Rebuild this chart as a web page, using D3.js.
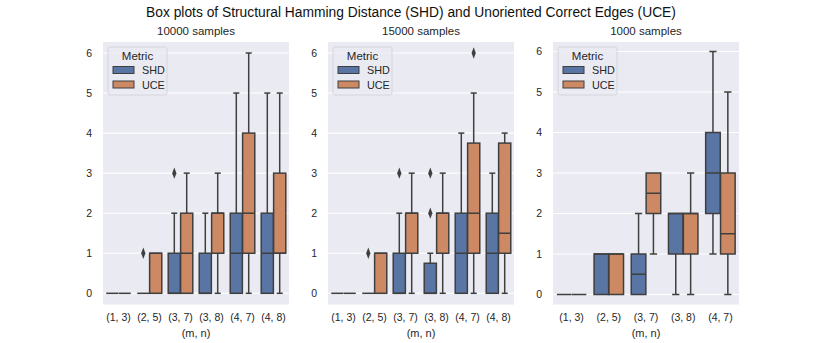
<!DOCTYPE html>
<html lang="en">
<head>
<meta charset="UTF-8" />
<title>SHD / UCE box plots</title>
<style>
  body { margin: 0; background: #fff; }
  svg { font-family: "Liberation Sans", Arial, sans-serif; }
</style>
</head>
<body>
<script src="https://d3js.org/d3.v7.min.js"></script>
<script>

// categories per panel
var cats10000 = ["(1, 3)", "(2, 5)", "(3, 7)", "(3, 8)", "(4, 7)", "(4, 8)"];
var cats15000 = ["(1, 3)", "(2, 5)", "(3, 7)", "(3, 8)", "(4, 7)", "(4, 8)"];
var cats1000 = ["(1, 3)", "(2, 5)", "(3, 7)", "(3, 8)", "(4, 7)"];
var metrics = ["SHD", "UCE"];
var yTicks = [0, 1, 2, 3, 4, 5, 6];

// box stats: [lowWhisker, q1, median, q3, highWhisker]
var shd10000 = [[0,0,0,0,0],[0,0,0,0,0],[0,0,0,1,2],[0,0,0,1,2],[0,0,1,2,5],[0,0,1,2,5]];
var uce10000 = [[0,0,0,0,0],[0,0,1,1,1],[0,0,1,2,3],[0,1,2,2,3],[0,1,2,4,6],[0,1,1,3,5]];
var shdOut10000 = [[],[1],[3],[],[],[]];
var uceOut10000 = [[],[],[],[],[],[]];

var shd15000 = [[0,0,0,0,0],[0,0,0,0,0],[0,0,0,1,2],[0,0,0,0.75,1],[0,0,1,2,4],[0,0,1,2,3]];
var uce15000 = [[0,0,0,0,0],[0,0,1,1,1],[0,1,2,2,3],[0,1,2,2,3],[0,1,2,3.75,5],[0,1,1.5,3.75,4]];
var shdOut15000 = [[],[1],[3],[2,3],[],[]];
var uceOut15000 = [[],[],[],[],[6],[]];

var shd1000 = [[0,0,0,0,0],[0,0,1,1,1],[0,0,0.5,1,2],[0,1,2,2,2],[1,2,3,4,6]];
var uce1000 = [[0,0,0,0,0],[0,0,1,1,1],[1,2,2.5,3,3],[0,1,2,2,3],[0,1,1.5,3,5]];
var shdOut1000 = [[],[],[],[],[]];
var uceOut1000 = [[],[],[],[],[]];

var colors = {SHD: "#5975a4", UCE: "#cc8963"};
var lineColor = "#3f3f3f";

var W = 822, H = 343;
var svg = d3.select("body").append("svg").attr("width", W).attr("height", H);

svg.append("text").attr("x", 411).attr("y", 17).attr("text-anchor", "middle")
  .attr("font-size", 13.8).attr("fill", "#111")
  .text("Box plots of Structural Hamming Distance (SHD) and Unoriented Correct Edges (UCE)");

var panels = [
  {title: "10000 samples", x0: 103, cats: cats10000, shd: shd10000, uce: uce10000, so: shdOut10000, uo: uceOut10000, y0: 293.3, y6: 53},
  {title: "15000 samples", x0: 328, cats: cats15000, shd: shd15000, uce: uce15000, so: shdOut15000, uo: uceOut15000, y0: 293.3, y6: 53},
  {title: "1000 samples", x0: 553, cats: cats1000, shd: shd1000, uce: uce1000, so: shdOut1000, uo: uceOut1000, y0: 294.5, y6: 51.5}
];

var pw = 186, plotTop = 42, plotBottom = 304.5;

panels.forEach(function(p) {
  var g = svg.append("g");
  var x = d3.scaleBand().domain(p.cats).range([p.x0, p.x0 + pw]).paddingInner(0).paddingOuter(0);
  var y = d3.scaleLinear().domain([0, 6]).range([p.y0, p.y6]);
  var hue = d3.scaleBand().domain(metrics).range([0, x.bandwidth() * 0.8]);
  var boxW = hue.bandwidth() * 0.98;

  g.append("rect").attr("x", p.x0).attr("y", plotTop).attr("width", pw).attr("height", plotBottom - plotTop)
    .attr("fill", "#eaeaf2");

  g.selectAll(".grid").data(yTicks).enter().append("line")
    .attr("x1", p.x0).attr("x2", p.x0 + pw)
    .attr("y1", function(d){ return y(d); }).attr("y2", function(d){ return y(d); })
    .attr("stroke", "#fff").attr("stroke-width", 1.1);

  var yAxis = d3.axisLeft(y).tickValues(yTicks).tickFormat(d3.format("d")).tickSize(0).tickPadding(11);
  var ya = g.append("g").attr("transform", "translate(" + p.x0 + ",0)").call(yAxis);
  ya.select(".domain").remove();
  ya.selectAll("text").attr("font-size", 10.5).attr("fill", "#262626")
    .attr("font-family", "Liberation Sans, Arial, sans-serif");

  var xAxis = d3.axisBottom(x).tickSize(0).tickPadding(9);
  var xa = g.append("g").attr("transform", "translate(0," + plotBottom + ")").call(xAxis);
  xa.select(".domain").remove();
  xa.selectAll("text").attr("font-size", 10.5).attr("fill", "#262626")
    .attr("font-family", "Liberation Sans, Arial, sans-serif");

  g.append("text").attr("x", p.x0 + pw / 2).attr("y", 337).attr("text-anchor", "middle")
    .attr("font-size", 11).attr("fill", "#262626").text("(m, n)");
  g.append("text").attr("x", p.x0 + pw / 2).attr("y", 35).attr("text-anchor", "middle")
    .attr("font-size", 11.5).attr("fill", "#262626").text(p.title);

  var series = [
    {m: "SHD", stats: p.shd, out: p.so},
    {m: "UCE", stats: p.uce, out: p.uo}
  ];

  series.forEach(function(s) {
    p.cats.forEach(function(c, i) {
      var st = s.stats[i];
      var cx = x(c) + x.bandwidth() * 0.1 + hue(s.m) + hue.bandwidth() / 2;
      var bx = cx - boxW / 2;
      var capW = boxW / 2;
      var bg = g.append("g");
      // whiskers
      if (st[0] < st[1]) {
        bg.append("line").attr("x1", cx).attr("x2", cx).attr("y1", y(st[0])).attr("y2", y(st[1]))
          .attr("stroke", lineColor).attr("stroke-width", 1.5);
        bg.append("line").attr("x1", cx - capW / 2).attr("x2", cx + capW / 2)
          .attr("y1", y(st[0])).attr("y2", y(st[0])).attr("stroke", lineColor).attr("stroke-width", 1.5);
      }
      if (st[4] > st[3]) {
        bg.append("line").attr("x1", cx).attr("x2", cx).attr("y1", y(st[3])).attr("y2", y(st[4]))
          .attr("stroke", lineColor).attr("stroke-width", 1.5);
        bg.append("line").attr("x1", cx - capW / 2).attr("x2", cx + capW / 2)
          .attr("y1", y(st[4])).attr("y2", y(st[4])).attr("stroke", lineColor).attr("stroke-width", 1.5);
      }
      bg.append("rect").attr("x", bx).attr("y", y(st[3])).attr("width", boxW)
        .attr("height", Math.max(0, y(st[1]) - y(st[3])))
        .attr("fill", colors[s.m]).attr("stroke", lineColor).attr("stroke-width", 1.5);
      bg.append("line").attr("x1", bx).attr("x2", bx + boxW)
        .attr("y1", y(st[2])).attr("y2", y(st[2])).attr("stroke", lineColor).attr("stroke-width", 1.5);
      // outliers as diamonds
      s.out[i].forEach(function(v) {
        bg.append("path").attr("d", d3.symbol().type(d3.symbolDiamond).size(28)())
          .attr("transform", "translate(" + cx + "," + y(v) + ") scale(0.75,1.15)")
          .attr("fill", lineColor);
      });
    });
  });

  // legend
  var lg = g.append("g").attr("transform", "translate(" + (p.x0 + 5) + "," + (plotTop + 5) + ")");
  lg.append("rect").attr("width", 59).attr("height", 48).attr("rx", 2)
    .attr("fill", "#eaeaf2").attr("fill-opacity", 0.8).attr("stroke", "#d0d0d8").attr("stroke-width", 0.8);
  lg.append("text").attr("x", 29.5).attr("y", 13).attr("text-anchor", "middle")
    .attr("font-size", 11.5).attr("fill", "#262626").text("Metric");
  metrics.forEach(function(m, k) {
    lg.append("rect").attr("x", 5).attr("y", 19.5 + k * 14.5).attr("width", 21).attr("height", 7)
      .attr("fill", colors[m]).attr("stroke", lineColor).attr("stroke-width", 1);
    lg.append("text").attr("x", 34).attr("y", 27 + k * 14.5)
      .attr("font-size", 10.8).attr("fill", "#262626").text(m);
  });
});
</script>
</body>
</html>
